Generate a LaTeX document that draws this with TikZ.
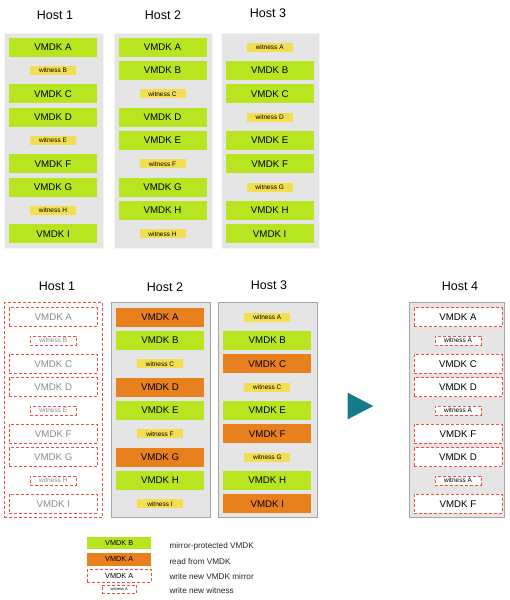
\documentclass[tikz,border=0pt]{standalone}
\usepackage{fontspec}
\setmainfont{Liberation Sans}
\usepackage{tikz}
\usetikzlibrary{positioning}
\definecolor{vgreen}{HTML}{B7E51F}
\definecolor{vorange}{HTML}{E8801E}
\definecolor{wyellow}{HTML}{F2DE50}
\definecolor{hostgray}{HTML}{E5E5E5}
\definecolor{newred}{HTML}{F0503C}
\definecolor{arrowteal}{HTML}{177A8C}
\definecolor{oldtext}{HTML}{8A8A8A}
\tikzstyle{hostbox}=[rectangle, fill=hostgray, draw=gray!70, line width=0.8pt, minimum width=98pt, minimum height=214.6pt, inner sep=0pt]
\tikzstyle{hosttitle}=[font=\fontsize{12.5}{14}\selectfont]
\tikzstyle{vbox}=[rectangle, minimum width=88pt, minimum height=19pt, inner sep=0pt, font=\fontsize{9.7}{11}\selectfont]
\tikzstyle{wbox}=[rectangle, minimum width=46pt, minimum height=9pt, inner sep=0pt, font=\fontsize{6.5}{7}\selectfont]
\tikzstyle{newline}=[draw=newred, line width=0.9pt, dash pattern=on 3pt off 2pt]
\tikzstyle{mirror}=[vbox, fill=vgreen]
\tikzstyle{readsrc}=[vbox, fill=vorange]
\tikzstyle{wit}=[wbox, fill=wyellow]
\tikzstyle{oldmir}=[vbox, newline, text=oldtext]
\tikzstyle{oldwit}=[wbox, newline, text=oldtext]
\tikzstyle{newmir}=[vbox, newline, fill=white]
\tikzstyle{newwit}=[wbox, newline, fill=white]
\tikzstyle{legendtext}=[anchor=west, inner sep=0pt, text=black!85, font=\fontsize{8.2}{10}\selectfont]

\begin{document}
\begin{tikzpicture}[x=1pt, y=-1pt]
  \useasboundingbox (0,0) rectangle (510,600);

  \node[hosttitle] (tt1) at (55,15) {Host 1};
  \node[hosttitle] (tt2) at (163,15) {Host 2};
  \node[hosttitle] (tt3) at (268,13) {Host 3};

  \node[hostbox, draw=hostgray!40, minimum width=99pt, minimum height=215pt] (th1) at (53.5,140.5) {};
  \node[hostbox, draw=hostgray!40, minimum height=215pt] (th2) at (163,140.5) {};
  \node[hostbox, draw=hostgray!40, minimum height=215pt] (th3) at (270,140.5) {};

  \foreach \kind/\txt [count=\i] in {mirror/VMDK A, wit/witness B, mirror/VMDK C, mirror/VMDK D, wit/witness E, mirror/VMDK F, mirror/VMDK G, wit/witness H, mirror/VMDK I}
    \node[\kind] (ta\i) at (53,{47.3+23.33*(\i-1)}) {\txt};
  \foreach \kind/\txt [count=\i] in {mirror/VMDK A, mirror/VMDK B, wit/witness C, mirror/VMDK D, mirror/VMDK E, wit/witness F, mirror/VMDK G, mirror/VMDK H, wit/witness H}
    \node[\kind] (tb\i) at (162.5,{47.3+23.33*(\i-1)}) {\txt};
  \foreach \kind/\txt [count=\i] in {wit/witness A, mirror/VMDK B, mirror/VMDK C, wit/witness D, mirror/VMDK E, mirror/VMDK F, wit/witness G, mirror/VMDK H, mirror/VMDK I}
    \node[\kind] (tc\i) at (269.7,{47.3+23.33*(\i-1)}) {\txt};

  \node[hosttitle] (bt1) at (57,286.7) {Host 1};
  \node[hosttitle] (bt2) at (165,286.7) {Host 2};
  \node[hosttitle] (bt3) at (269,285) {Host 3};
  \node[hosttitle] (bt4) at (460,286.7) {Host 4};

  \node[rectangle, newline, minimum width=98.7pt, minimum height=214.6pt, inner sep=0pt] (bh1) at (53.3,410) {};
  \node[hostbox, minimum width=98.3pt] (bh2) at (160.8,410) {};
  \node[hostbox, minimum width=99pt] (bh3) at (267.8,410) {};
  \node[hostbox, minimum width=95pt] (bh4) at (456.5,410) {};

  \foreach \kind/\txt [count=\i] in {oldmir/VMDK A, oldwit/witness B, oldmir/VMDK C, oldmir/VMDK D, oldwit/witness E, oldmir/VMDK F, oldmir/VMDK G, oldwit/witness H, oldmir/VMDK I}
    \node[\kind] (ba\i) at (53.3,{317.3+23.33*(\i-1)}) {\txt};
  \foreach \kind/\txt [count=\i] in {readsrc/VMDK A, mirror/VMDK B, wit/witness C, readsrc/VMDK D, mirror/VMDK E, wit/witness F, readsrc/VMDK G, mirror/VMDK H, wit/witness I}
    \node[\kind] (bb\i) at (160,{317.3+23.33*(\i-1)}) {\txt};
  \foreach \kind/\txt [count=\i] in {wit/witness A, mirror/VMDK B, readsrc/VMDK C, wit/witness C, mirror/VMDK E, readsrc/VMDK F, wit/witness G, mirror/VMDK H, readsrc/VMDK I}
    \node[\kind] (bc\i) at (267.3,{317.3+23.33*(\i-1)}) {\txt};
  \foreach \kind/\txt [count=\i] in {newmir/VMDK A, newwit/witness A, newmir/VMDK C, newmir/VMDK D, newwit/witness A, newmir/VMDK F, newmir/VMDK D, newwit/witness A, newmir/VMDK F}
    \node[\kind] (bd\i) at (458,{317.3+23.33*(\i-1)}) {\txt};

  \fill[arrowteal] (347.7,392.7) -- (373.3,406) -- (347.7,419.3) -- cycle;

  \node[mirror, minimum width=64pt, minimum height=12.7pt, font=\fontsize{7.3}{9}\selectfont] (key1) at (119.2,543) {VMDK B};
  \node[readsrc, minimum width=64pt, minimum height=12.7pt, font=\fontsize{7.3}{9}\selectfont] (key2) at (119.2,559.3) {VMDK A};
  \node[newmir, minimum width=64pt, minimum height=12.7pt, font=\fontsize{7.3}{9}\selectfont] (key3) at (119.2,575.8) {VMDK A};
  \node[newwit, minimum width=34.7pt, minimum height=8.3pt, font=\fontsize{4}{5}\selectfont] (key4) at (119.3,589.2) {witness A};
  \node[legendtext] (key1txt) at (169.3,546.7) {mirror-protected VMDK};
  \node[legendtext] (key2txt) at (169.3,561.7) {read from VMDK};
  \node[legendtext] (key3txt) at (169.3,576.7) {write new VMDK mirror};
  \node[legendtext] (key4txt) at (169.3,591) {write new witness};
\end{tikzpicture}
\end{document}
